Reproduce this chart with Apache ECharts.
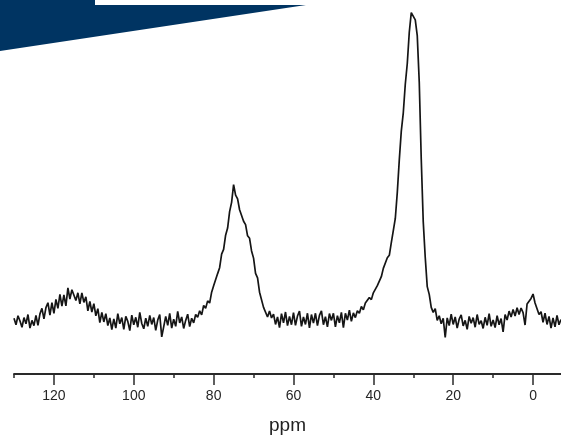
<!DOCTYPE html>
<html>
<head>
<meta charset="utf-8">
<script src="https://cdn.jsdelivr.net/npm/echarts@6/dist/echarts.min.js"></script>
<style>html,body{margin:0;padding:0;background:#fff;}#c{width:561px;height:437px;}</style>
</head>
<body>
<div id="c"></div>
<script>
// Spectrum sampling grid (ppm), from 130 down to -7 ppm in 0.5 ppm steps
const ppmStart = 130;
const ppmStep = 0.5;
// Intensity values (arbitrary units, baseline ~0, main peak ~100)
const intensity = [
  1.2, -0.9, 2.0, 0.3, -1.7, 1.4, -0.6, 2.4, -2.0, 0.5,
  -1.2, 2.1, -1.1, 2.6, 4.4, 1.0, 4.6, 6.2, 2.2, 6.2,
  2.8, 7.3, 4.4, 8.9, 5.1, 8.7, 5.2, 11.0, 7.4, 10.4,
  11.0, 6.9, 9.4, 5.8, 9.4, 6.3, 8.1, 3.6, 6.6, 3.2,
  5.9, 2.0, 4.3, -0.2, 3.1, 0.0, 2.7, -1.2, 1.3, -2.5,
  1.0, -2.0, 2.7, -0.6, 1.4, -2.4, 1.8, 0.2, -2.8, 2.2,
  -0.9, 1.5, -1.7, 3.1, -0.5, -2.2, 1.2, -1.4, 2.1, -0.8,
  1.4, -2.7, 0.6, 2.4, -4.8, -1.5, 1.8, -1.1, 2.8, -2.0,
  0.9, -1.4, 3.4, -0.3, 1.6, -2.1, 0.5, 2.5, -1.5, 1.2,
  -0.3, 2.4, 1.5, 3.6, 2.3, 5.3, 4.4, 6.8, 6.1, 9.6,
  11.7, 12.2, 15.6, 17.5, 21.9, 23.4, 28.0, 30.3, 35.6, 38.6,
  44.3, 40.9, 39.7, 36.2, 35.6, 32.5, 31.4, 27.8, 27.0, 22.9,
  20.6, 15.7, 14.2, 9.6, 9.0, 4.7, 5.2, 1.6, 3.5, 1.3,
  2.5, -0.8, 1.6, -1.8, 2.7, -0.3, 3.2, -1.2, 1.8, -0.9,
  3.0, -1.1, 1.9, 3.5, -1.4, 1.6, -0.8, 2.8, -1.9, 2.4,
  -0.4, 2.8, -1.2, 2.1, 3.6, -0.9, 1.7, -1.6, 2.7, 0.5,
  2.8, -1.6, 2.0, -0.3, 3.1, -1.8, 2.8, 0.6, 3.8, 0.2,
  2.9, 1.4, 3.6, 2.8, 5.0, 3.9, 6.1, 5.7, 7.9, 7.2,
  9.4, 8.8, 11.7, 11.1, 14.6, 17.3, 17.4, 20.7, 21.5, 25.6,
  29.5, 33.4, 41.8, 52.3, 61.6, 67.5, 76.7, 83.4, 93.5, 99.8,
  99.6, 97.5, 92.4, 77.4, 52.5, 32.3, 20.8, 11.4, 8.9, 4.7,
  3.1, 4.3, 0.5, 2.0, -0.6, 1.2, -5.0, 1.3, -1.2, 2.5,
  -0.8, 1.6, -2.0, 0.9, 2.3, -1.3, 0.5, -2.4, 1.8, -0.4,
  1.4, -1.7, 2.4, -0.8, 0.4, -2.1, 1.5, -1.1, 2.7, -1.4,
  0.6, -1.8, 2.0, -0.9, 1.1, -3.2, 2.4, 0.6, 3.5, 1.6,
  4.0, 1.9, 4.6, 2.4, 4.5, 3.0, -1.0, 5.8, 5.3, 7.6,
  9.0, 6.1, 6.0, 2.4, 3.3, -0.1, 2.8, -0.8, 1.8, -2.0,
  1.3, -1.6, 2.1, -0.9, 0.8
];
const majorTicks = [120, 100, 80, 60, 40, 20, 0];
const minorTicks = [130, 110, 90, 70, 50, 30, 10];
const axisName = 'ppm';

const seriesData = intensity.map((v, i) => [ppmStart - i * ppmStep, v]);

const chart = echarts.init(document.getElementById('c'), null, {renderer: 'canvas'});
const axisColor = '#2a2a2a';
chart.setOption({
  animation: false,
  backgroundColor: '#ffffff',
  grid: [{left: 14, right: 0, top: 0, bottom: 63, containLabel: false, outerBoundsMode: 'none'}],
  xAxis: [
    {
      type: 'value', inverse: true, min: -7, max: 130, position: 'bottom',
      splitLine: {show: false},
      axisLine: {show: true, onZero: false, lineStyle: {color: axisColor, width: 1.8}},
      axisTick: {show: true, customValues: majorTicks, length: 11, lineStyle: {color: axisColor, width: 1.5}},
      axisLabel: {show: true, customValues: majorTicks, margin: 15, color: '#262626', fontSize: 14, fontFamily: 'Liberation Sans'},
      name: axisName, nameLocation: 'middle', nameGap: 42,
      nameTextStyle: {color: '#222', fontSize: 19, fontFamily: 'Liberation Sans'}
    },
    {
      type: 'value', inverse: true, min: -7, max: 130, position: 'bottom',
      splitLine: {show: false},
      axisLine: {show: false, onZero: false},
      axisTick: {show: true, customValues: minorTicks, length: 4, lineStyle: {color: axisColor, width: 1.5}},
      axisLabel: {show: false}
    }
  ],
  yAxis: {type: 'value', min: -16.8, max: 103.9, show: false, splitLine: {show: false}},
  graphic: [{
    type: 'polygon',
    shape: {points: [[0, 0], [95, 0], [95, 5], [306, 5], [0, 51]]},
    style: {fill: '#003462'},
    z: 100
  }],
  series: [{
    type: 'line', xAxisIndex: 0, data: seriesData, showSymbol: false, symbol: 'none',
    lineStyle: {color: '#151515', width: 1.7}, sampling: null, smooth: false
  }]
});
</script>
</body>
</html>
